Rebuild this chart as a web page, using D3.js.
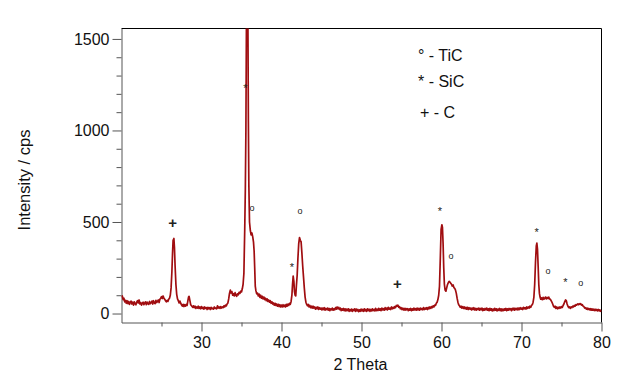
<!DOCTYPE html>
<html>
<head>
<meta charset="utf-8">
<script src="https://cdn.jsdelivr.net/npm/d3@7"></script>
<style>
  html, body { margin: 0; padding: 0; background: #fff; }
  svg { display: block; }
  text { font-family: Arial, "Liberation Sans", sans-serif; }
</style>
</head>
<body>
<svg id="chart" width="623" height="376"></svg>
<script>
// ---- data: [2 theta, intensity (cps)] ----
const patternLow = [
  [20.0,88],[20.1,96],[20.2,76],[20.3,84],[20.4,64],[20.5,72],[20.6,56],[20.7,70],[20.8,54],[20.9,66],
  [21.0,50],[21.1,62],[21.2,68],[21.3,52],[21.4,62],[21.5,46],[21.6,64],[21.7,54],[21.8,48],[21.9,62],
  [22.0,70],[22.1,58],[22.2,74],[22.3,52],[22.4,60],[22.5,46],[22.6,56],[22.7,62],[22.8,48],[22.9,58],
  [23.0,64],[23.1,48],[23.2,62],[23.3,54],[23.4,50],[23.5,66],[23.6,54],[23.7,60],[23.8,68],[23.9,52],
  [24.0,70],[24.1,58],[24.2,54],[24.3,72],[24.4,60],[24.5,66],[24.6,74],[24.7,60],[24.8,78],[24.9,84],
  [25.0,92],[25.1,82],[25.2,96],[25.3,84],[25.4,78],[25.5,70],[25.6,64],[25.7,72],[25.8,66],[25.9,78],
  [26.0,84],[26.1,100],[26.2,140],[26.3,230],[26.38,330],[26.45,400],[26.55,410],[26.62,360],[26.7,260],[26.8,160],
  [26.9,105],[27.0,80],[27.1,70],[27.2,58],[27.3,68],[27.4,56],[27.5,48],[27.6,40],[27.7,50],[27.8,38],
  [27.9,48],[28.0,40],[28.1,50],[28.2,44],[28.3,70],[28.38,90],[28.45,94],[28.55,70],[28.65,48],[28.8,40],
  [28.9,34],[29.0,42],[29.1,32],[29.2,40],[29.3,28],[29.4,36],[29.5,30],[29.6,40],[29.7,28],[29.8,36],
  [29.9,26],[30.0,38],[30.1,28],[30.2,34],[30.3,24],[30.4,36],[30.5,28],[30.6,32],[30.7,22],[30.8,34],
  [30.9,26],[31.0,32],[31.1,22],[31.2,34],[31.3,26],[31.4,30],[31.5,24],[31.6,36],[31.7,28],[31.8,30],
  [31.9,26],[32.0,42],[32.1,30],[32.2,36],[32.3,28],[32.4,38],[32.5,30],[32.6,36],[32.7,32],[32.8,42],
  [32.9,36],[33.0,46],[33.1,42],[33.2,52],[33.3,58],[33.4,80],[33.5,110],[33.6,128],[33.7,112],[33.8,120],
  [33.9,100],[34.0,108],[34.1,96],[34.2,114],[34.3,100],[34.4,94],[34.5,108],[34.6,102],[34.7,116],[34.8,110],
  [34.9,122],[35.0,118],[35.1,135],[35.2,160],[35.3,220],[35.4,450],[35.48,680],[35.55,1000],[35.62,1620],[35.72,1700],
  [35.8,1620],[35.86,1050],[35.92,700],[36.0,500],[36.1,455],[36.2,430],[36.3,440],[36.4,420],[36.5,390],[36.58,340],
  [36.65,250],[36.72,150],[36.8,125],[36.9,108],[37.0,112],[37.1,96],[37.2,106],[37.3,88],[37.4,100],[37.5,84],
  [37.6,94],[37.7,80],[37.8,90],[37.9,76],[38.0,84],[38.1,70],[38.2,80],[38.3,66],[38.4,74],[38.5,62],
  [38.6,70],[38.7,56],[38.8,64],[38.9,52],[39.0,58],[39.1,46],[39.2,56],[39.3,44],[39.4,52],[39.5,40],
  [39.6,50],[39.7,38],[39.8,48],[39.9,36],[40.0,46],[40.1,36],[40.2,48],[40.3,38],[40.4,46],[40.5,36],
  [40.6,50],[40.7,40],[40.8,52],[40.9,44],[41.0,56],[41.1,50],[41.2,66],[41.3,100],[41.38,160],[41.46,205],
  [41.55,175],[41.62,120],[41.7,100],[41.78,96],[41.86,150],[41.96,210],[42.05,300],[42.15,380],[42.25,415],[42.35,400],
  [42.45,392],[42.55,330],[42.65,260],[42.75,200],[42.85,140],[42.95,90],[43.05,62],[43.15,50],[43.25,42],[43.35,50],
  [43.45,36],[43.55,44],[43.65,32],[43.75,40],[43.85,30]
];
const patternHigh = [
  [43.95,40],[44.05,30],[44.15,36],[44.25,24],[44.35,34],[44.45,26],[44.55,36],[44.65,22],[44.75,32],[44.85,24],
  [44.95,30],[45.05,20],[45.15,30],[45.25,22],[45.35,32],[45.45,18],[45.55,28],[45.65,22],[45.75,30],[45.85,18],
  [45.95,28],[46.05,16],[46.15,26],[46.25,20],[46.35,30],[46.45,18],[46.55,26],[46.65,20],[46.75,32],[46.85,24],
  [46.95,36],[47.05,26],[47.15,34],[47.25,22],[47.35,30],[47.45,16],[47.55,26],[47.65,18],[47.75,28],[47.85,16],
  [47.95,26],[48.05,14],[48.15,24],[48.25,16],[48.35,26],[48.45,12],[48.55,22],[48.65,14],[48.75,24],[48.85,12],
  [48.95,22],[49.05,16],[49.15,26],[49.25,12],[49.35,24],[49.45,14],[49.55,22],[49.65,10],[49.75,20],[49.85,12],
  [49.95,24],[50.05,14],[50.15,22],[50.25,12],[50.35,26],[50.45,14],[50.55,22],[50.65,12],[50.75,26],[50.85,16],
  [50.95,24],[51.05,12],[51.15,22],[51.25,14],[51.35,26],[51.45,16],[51.55,22],[51.65,14],[51.75,28],[51.85,16],
  [51.95,24],[52.05,16],[52.15,28],[52.25,18],[52.35,26],[52.45,16],[52.55,30],[52.65,20],[52.75,26],[52.85,18],
  [52.95,32],[53.05,22],[53.15,30],[53.25,20],[53.35,34],[53.45,24],[53.55,30],[53.65,22],[53.75,36],[53.85,26],
  [53.95,34],[54.05,28],[54.15,38],[54.25,32],[54.35,44],[54.45,40],[54.55,46],[54.65,34],[54.75,38],[54.85,26],
  [54.95,32],[55.05,22],[55.15,30],[55.25,20],[55.35,28],[55.45,18],[55.55,28],[55.65,20],[55.75,26],[55.85,16],
  [55.95,26],[56.05,18],[56.15,28],[56.25,16],[56.35,26],[56.45,18],[56.55,30],[56.65,20],[56.75,26],[56.85,18],
  [56.95,30],[57.05,20],[57.15,28],[57.25,18],[57.35,30],[57.45,22],[57.55,28],[57.65,20],[57.75,32],[57.85,22],
  [57.95,30],[58.05,24],[58.15,32],[58.25,22],[58.35,34],[58.45,26],[58.55,36],[58.65,28],[58.75,38],[58.85,32],
  [58.95,42],[59.05,36],[59.15,46],[59.25,44],[59.35,56],[59.45,62],[59.55,76],[59.65,100],[59.75,150],[59.85,300],
  [59.95,460],[60.05,485],[60.12,470],[60.2,380],[60.28,250],[60.36,160],[60.45,128],[60.55,122],[60.65,140],[60.75,158],
  [60.85,168],[60.95,176],[61.05,172],[61.15,166],[61.25,160],[61.35,150],[61.45,156],[61.55,142],[61.65,138],[61.75,128],
  [61.85,110],[61.95,84],[62.05,62],[62.15,48],[62.25,42],[62.35,34],[62.45,40],[62.55,30],[62.65,38],[62.75,28],
  [62.85,36],[62.95,26],[63.05,34],[63.15,24],[63.25,34],[63.35,22],[63.45,32],[63.55,24],[63.65,30],[63.75,20],
  [63.85,30],[63.95,22],[64.05,32],[64.15,20],[64.25,28],[64.35,18],[64.45,28],[64.55,22],[64.65,30],[64.75,18],
  [64.85,28],[64.95,20],[65.05,30],[65.15,16],[65.25,26],[65.35,18],[65.45,28],[65.55,20],[65.65,30],[65.75,18],
  [65.85,26],[65.95,16],[66.05,28],[66.15,18],[66.25,26],[66.35,14],[66.45,24],[66.55,16],[66.65,28],[66.75,18],
  [66.85,26],[66.95,14],[67.05,24],[67.15,18],[67.25,28],[67.35,16],[67.45,26],[67.55,14],[67.65,24],[67.75,16],
  [67.85,26],[67.95,18],[68.05,28],[68.15,16],[68.25,26],[68.35,18],[68.45,28],[68.55,20],[68.65,26],[68.75,16],
  [68.85,28],[68.95,20],[69.05,30],[69.15,18],[69.25,28],[69.35,22],[69.45,30],[69.55,20],[69.65,30],[69.75,22],
  [69.85,32],[69.95,24],[70.05,30],[70.15,22],[70.25,34],[70.35,26],[70.45,32],[70.55,24],[70.65,36],[70.75,28],
  [70.85,36],[70.95,30],[71.05,40],[71.15,34],[71.25,44],[71.35,48],[71.45,62],[71.55,90],[71.65,160],[71.75,280],
  [71.85,370],[71.92,385],[72.0,350],[72.08,260],[72.16,160],[72.24,110],[72.32,90],[72.4,78],[72.5,86],[72.6,76],
  [72.7,88],[72.8,78],[72.9,84],[73.0,90],[73.1,80],[73.2,88],[73.3,82],[73.4,90],[73.5,80],[73.6,78],
  [73.7,70],[73.8,62],[73.9,52],[74.0,40],[74.1,34],[74.2,40],[74.3,28],[74.4,36],[74.5,26],[74.6,34],
  [74.7,28],[74.8,36],[74.9,30],[75.0,38],[75.1,34],[75.2,44],[75.3,52],[75.4,64],[75.5,74],[75.6,70],
  [75.7,52],[75.8,40],[75.9,32],[76.0,36],[76.1,28],[76.2,36],[76.3,32],[76.4,40],[76.5,36],[76.6,44],
  [76.7,40],[76.8,48],[76.9,46],[77.0,52],[77.1,48],[77.2,54],[77.3,50],[77.4,54],[77.5,46],[77.6,48],
  [77.7,40],[77.8,38],[77.9,30],[78.0,32],[78.1,24],[78.2,30],[78.3,22],[78.4,28],[78.5,20],[78.6,26],
  [78.7,18],[78.8,26],[78.9,18],[79.0,24],[79.1,16],[79.2,24],[79.3,16],[79.4,22],[79.5,14],[79.6,22],
  [79.7,14],[79.8,20],[79.9,12],[80.0,18]
];

// phase markers: [2 theta, intensity] where the symbol sits
const markTiC = [[36.3,574],[42.3,560],[61.2,310],[73.3,231],[77.4,162]];
const markSiC = [[35.5,1244],[41.3,270],[59.8,574],[71.9,460],[75.5,186]];
const markC   = [[26.4,492],[54.5,160]];

const legendItems = ["° - TiC", "* - SiC", "+ - C"];

const xMajorTicks = [30, 40, 50, 60, 70, 80];
const xMinorTicks = [25, 35, 45, 55, 65, 75];
const yMajorTicks = [0, 500, 1000, 1500];
const yMinorTicks = [100, 200, 300, 400, 600, 700, 800, 900, 1100, 1200, 1300, 1400];

const xTitle = "2 Theta";
const yTitle = "Intensity / cps";

// ---- drawing ----
const svg = d3.select("#chart");
const pLeft = 121.5, pRight = 601.5, pTop = 28.5, pBottom = 322.5;
const x = d3.scaleLinear().domain([20, 80]).range([pLeft, pRight]);
const y = d3.scaleLinear().domain([-49, 1557]).range([pBottom, pTop]);

svg.append("rect").attr("width", 623).attr("height", 376).attr("fill", "#fff");

svg.append("defs").append("clipPath").attr("id", "plotclip")
  .append("rect").attr("x", pLeft).attr("y", pTop)
  .attr("width", pRight - pLeft).attr("height", pBottom - pTop);

const axisColor = "#555";

// frame: top and right lines
svg.append("line").attr("x1", pLeft).attr("x2", pRight).attr("y1", pTop).attr("y2", pTop)
  .attr("stroke", "#000").attr("stroke-width", 1);
svg.append("line").attr("x1", pRight).attr("x2", pRight).attr("y1", pTop).attr("y2", pBottom)
  .attr("stroke", "#000").attr("stroke-width", 1);

// y axis
svg.append("g").attr("transform", `translate(${pLeft},0)`)
  .call(d3.axisLeft(y).tickValues(yMajorTicks).tickFormat(d3.format("d"))
    .tickSize(9).tickSizeOuter(0).tickPadding(3));
const yMinorG = svg.append("g").attr("transform", `translate(${pLeft},0)`)
  .call(d3.axisLeft(y).tickValues(yMinorTicks).tickSize(5).tickFormat(""));
yMinorG.select(".domain").remove();

// x axis
svg.append("g").attr("transform", `translate(0,${pBottom})`)
  .call(d3.axisBottom(x).tickValues(xMajorTicks).tickFormat(d3.format("d"))
    .tickSize(9).tickSizeOuter(0).tickPadding(5));
const xMinorG = svg.append("g").attr("transform", `translate(0,${pBottom})`)
  .call(d3.axisBottom(x).tickValues(xMinorTicks).tickSize(4).tickFormat(""));
xMinorG.select(".domain").remove();

svg.selectAll(".domain").attr("stroke", axisColor);
svg.selectAll(".tick line").attr("stroke", axisColor);
svg.selectAll(".tick text").attr("fill", "#111").style("font-size", "16px")
  .style("font-family", "Arial, 'Liberation Sans', sans-serif");

// titles
svg.append("text").attr("x", 360.5).attr("y", 370).attr("text-anchor", "middle")
  .style("font-size", "16px").attr("fill", "#111").text(xTitle);
svg.append("text").attr("transform", "translate(29.5,180) rotate(-90)").attr("text-anchor", "middle")
  .style("font-size", "16.5px").attr("fill", "#111").text(yTitle);

// pattern line
const line = d3.line().x(d => x(d[0])).y(d => y(d[1]));
const pattern = patternLow.concat(patternHigh);
svg.append("path").datum(pattern)
  .attr("clip-path", "url(#plotclip)")
  .attr("fill", "none").attr("stroke", "#a00d10").attr("stroke-width", 1.7)
  .attr("stroke-linejoin", "round")
  .attr("d", line);

// markers
const markG = svg.append("g");
markG.selectAll("text.tic").data(markTiC).join("text").attr("class", "tic")
  .attr("x", d => x(d[0])).attr("y", d => y(d[1])).attr("dy", "0.28em")
  .attr("text-anchor", "middle").style("font-size", "9px").attr("fill", "#222").text("o");
markG.selectAll("text.sic").data(markSiC).join("text").attr("class", "sic")
  .attr("x", d => x(d[0])).attr("y", d => y(d[1])).attr("dy", "0.6em")
  .attr("text-anchor", "middle").style("font-size", "11px").attr("fill", "#222").text("*");
markG.selectAll("text.c").data(markC).join("text").attr("class", "c")
  .attr("x", d => x(d[0])).attr("y", d => y(d[1])).attr("dy", "0.33em")
  .attr("text-anchor", "middle").style("font-size", "15px").style("font-weight", "bold")
  .attr("fill", "#222").text("+");

// legend
const legendPos = [[418, 61], [418, 87], [420, 118]];
svg.selectAll("text.legend").data(legendItems).join("text").attr("class", "legend")
  .attr("x", (d, i) => legendPos[i][0]).attr("y", (d, i) => legendPos[i][1])
  .style("font-size", "16px").attr("fill", "#111").text(d => d);
</script>
</body>
</html>
